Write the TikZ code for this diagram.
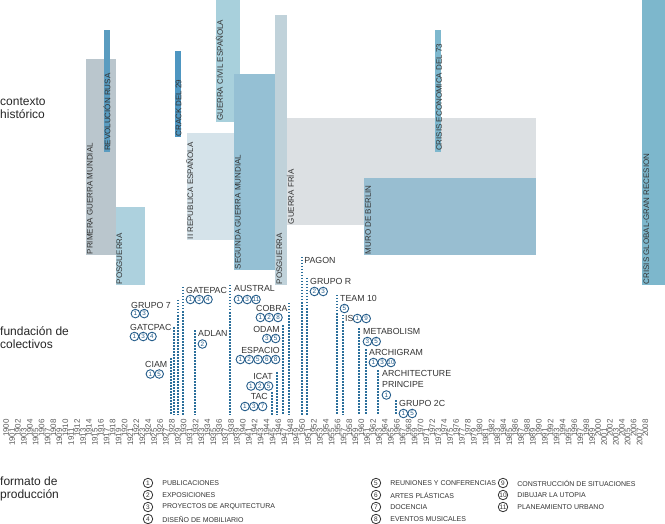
\documentclass[tikz,border=0pt]{standalone}
\usepackage{fontspec}
\setmainfont{Liberation Sans}
\usetikzlibrary{positioning}

\definecolor{cpgm}{HTML}{BAC6CD}
\definecolor{crusa}{HTML}{5A9CC0}
\definecolor{cpos}{HTML}{ADD1DE}
\definecolor{ccrack}{HTML}{4E96C1}
\definecolor{cgce}{HTML}{A8D0DC}
\definecolor{crep}{HTML}{D5E3EA}
\definecolor{csgm}{HTML}{95C0D4}
\definecolor{cposb}{HTML}{C0D2DA}
\definecolor{cfria}{HTML}{DCE0E3}
\definecolor{cmuro}{HTML}{98BED1}
\definecolor{ccris}{HTML}{7EB8CE}
\definecolor{cglob}{HTML}{7DB7CC}
\definecolor{txtdark}{HTML}{333333}
\definecolor{yeargray}{HTML}{5A5A5A}
\definecolor{linblue}{HTML}{2B6F9B}
\definecolor{numblue}{HTML}{235C8A}

\tikzset{
  barlabel/.style={rotate=90, anchor=north west, inner sep=0.6pt, text=txtdark,
    font=\fontsize{8}{8}\selectfont, text height=5.8pt, text depth=0pt},
  yearlabel/.style={rotate=90, anchor=east, inner sep=0pt, text=yeargray,
    font=\fontsize{8}{8}\selectfont},
  colect/.style={inner sep=0pt, text=txtdark, font=\fontsize{8.8}{11}\selectfont,
    text height=6.3pt, text depth=0pt},
  puntos/.style={draw=linblue, line width=1.8pt, dash pattern=on 1.5pt off 1.5pt},
  num/.style={circle, draw=numblue, line width=0.9pt, minimum size=8.6pt, inner sep=0pt,
    text=numblue, font=\fontsize{6.3}{6.3}\selectfont},
  leynum/.style={circle, draw=txtdark, line width=0.8pt, minimum size=9.5pt, inner sep=0pt,
    text=txtdark, font=\fontsize{6.5}{6.5}\selectfont},
  leytxt/.style={inner sep=0pt, anchor=west, text=txtdark, font=\fontsize{7}{7}\selectfont},
  seccion/.style={align=left, anchor=north west, inner sep=0pt, text=black!85,
    font=\fontsize{12}{13}\selectfont}
}

% circled numbers in a row, #2 = centre of the first one
\newcommand{\nums}[3]{\foreach \k [count=\i] in {#3}
  \node[num, xshift={(\i-1)*8.8}] (#1-\i) at (#2) {\k};}

\begin{document}
\begin{tikzpicture}[x=1pt, y=-1pt, declare function={yr(\a)=3.1+5.92*(\a-1900);}]
  \useasboundingbox (0,0) rectangle (665,524);

  % titles
  \node[seccion] (contexto) at (0,98) {contexto\\histórico};
  \node[seccion] (fundacion) at (0,326) {fundación de\\colectivos};
  \node[seccion] (formato) at (0,477) {formato de\\producción};

  % historical context
  \foreach \n/\c/\a/\b/\t/\u/\txt in {
      pgm/cpgm/1914/1919/59/255/PRIMERA GUERRA MUNDIAL,
      rusa/crusa/1917/1918/30/151.7/REVOLUCIÓN RUSA,
      posa/cpos/1919/1924/207.3/285/POSGUERRA,
      crack/ccrack/1929/1930/51/137.3/CRACK DEL 29,
      gce/cgce/1936/1940/0/121.7/GUERRA CIVIL ESPAÑOLA,
      rep/crep/1931/1939/133.3/240/II REPUBLICA ESPAÑOLA,
      sgm/csgm/1939/1946/74/270/SEGUNDA GUERRA MUNDIAL,
      posb/cposb/1946/1948/15/285/POSGUERRA,
      fria/cfria/1948/1990/118.3/225/GUERRA FRÍA,
      muro/cmuro/1961/1990/177.7/255/MURO DE BERLIN,
      cris/ccris/1973/1974/30/151.7/CRISIS ECONOMICA DEL 73,
      glob/cglob/2008/2012/0/285/CRISIS GLOBAL-GRAN RECESION}
  {
    \fill[\c] ({yr(\a)},\t) rectangle ({yr(\b)},\u);
    \node[barlabel] (\n) at ({yr(\a)},\u) {\txt};
  }

  % years
  \foreach \a in {1900,...,2008} {
    \pgfmathsetmacro\yy{419+9*mod(\a,2)}
    \node[yearlabel] (y\a) at ({yr(\a)+3},\yy) {\a};
  }

  % collectives: founding lines
  \foreach \n/\x/\t in {ciam/171/358, gatcpac/174/327, grupo7/178/300,
      gatepac/183/287, adlan/195/330, austral/230/285, tac/272/392,
      icat/277/372, odam/283/325, espacio/283/346, cobra/289/303,
      pagon/301.7/257, grupor/307/278, team10/337/295, is/343/315,
      metabolism/359/328, archigram/366/349, principe/378/370, grupo2c/396/400}
  {
    \coordinate (\n-top) at (\x,\t);
    \coordinate (\n-bot) at (\x,415);
    \draw[puntos] (\n-top) -- (\n-bot);
  }

  % labels left of the lines
  \node[colect, anchor=north west] (grupo7) at (131,301.7) {GRUPO 7};
  \nums{grupo7}{135.4,313.6}{1,3}
  \node[colect, anchor=north west] (gatcpac) at (130,324) {GATCPAC};
  \nums{gatcpac}{134.4,336.5}{1,3,4}
  \node[colect, anchor=north west] (ciam) at (145,361) {CIAM};
  \nums{ciam}{150.4,374}{1,5}
  \node[colect, anchor=north west] (cobra) at (256,305) {COBRA};
  \nums{cobra}{260.4,317.5}{1,2,8}
  \node[colect, anchor=north east] (odam) at (280,326) {ODAM};
  \nums{odam}{266.8,338.5}{3,5}
  \node[colect, anchor=north east] (espacio) at (280,347) {ESPACIO};
  \nums{espacio}{240.4,359.5}{1,2,5,6,8}
  \node[colect, anchor=north east] (icat) at (273,373) {ICAT};
  \nums{icat}{251,386}{1,2,5}
  \node[colect, anchor=north east] (tac) at (268,393) {TAC};
  \nums{tac}{245,406.5}{1,3,7}

  % labels right of the lines
  \node[colect, anchor=north west] (gatepac) at ([xshift=3pt]gatepac-top) {GATEPAC};
  \nums{gatepac}{190.4,299.5}{1,3,4}
  \node[colect, anchor=north west] (adlan) at ([xshift=3pt]adlan-top) {ADLAN};
  \nums{adlan}{202.4,344}{2}
  \node[colect, anchor=north west] (austral) at ([xshift=4pt]austral-top) {AUSTRAL};
  \nums{austral}{238.4,299.5}{1,3,11}
  \node[colect, anchor=north west] (pagon) at ([xshift=2.5pt]pagon-top) {PAGON};
  \node[colect, anchor=north west] (grupor) at ([xshift=3pt]grupor-top) {GRUPO R};
  \nums{grupor}{314.4,291.5}{2,3}
  \node[colect, anchor=north west] (team10) at ([xshift=3pt]team10-top) {TEAM 10};
  \nums{team10}{344.4,308.5}{5}
  \node[colect, anchor=north west] (is) at ([xshift=2pt]is-top) {IS};
  \nums{is}{357.4,318.5}{1,9}
  \node[colect, anchor=north west] (metabolism) at ([xshift=4pt]metabolism-top) {METABOLISM};
  \nums{metabolism}{367.4,341.5}{3,5}
  \node[colect, anchor=north west] (archigram) at ([xshift=3pt]archigram-top) {ARCHIGRAM};
  \nums{archigram}{373.4,362.5}{1,3,10}
  \node[colect, anchor=north west, align=left, text height=] (principe) at ([xshift=4pt]principe-top) {ARCHITECTURE\\PRINCIPE};
  \nums{principe}{386.4,395}{1}
  \node[colect, anchor=north west] (grupo2c) at ([xshift=3pt]grupo2c-top) {GRUPO 2C};
  \nums{grupo2c}{403.4,413.5}{1,5}

  % legend
  \foreach \k/\x/\y/\txt in {1/148/483/PUBLICACIONES, 2/148/495/EXPOSICIONES,
      3/148/507/PROYECTOS DE ARQUITECTURA, 4/148/519/DISEÑO DE MOBILIARIO,
      5/376/483/REUNIONES Y CONFERENCIAS, 6/376/495/ARTES PLÁSTICAS,
      7/376/507/DOCENCIA, 8/376/519/EVENTOS MUSICALES,
      9/503/483/CONSTRUCCIÓN DE SITUACIONES, 10/503/495/DIBUJAR LA UTOPIA,
      11/503/507/PLANEAMIENTO URBANO}
  {
    \node[leynum] (ley\k) at (\x,\y) {\k};
    \node[leytxt, right=9pt of ley\k] (leytxt\k) {\txt};
  }
\end{tikzpicture}
\end{document}
